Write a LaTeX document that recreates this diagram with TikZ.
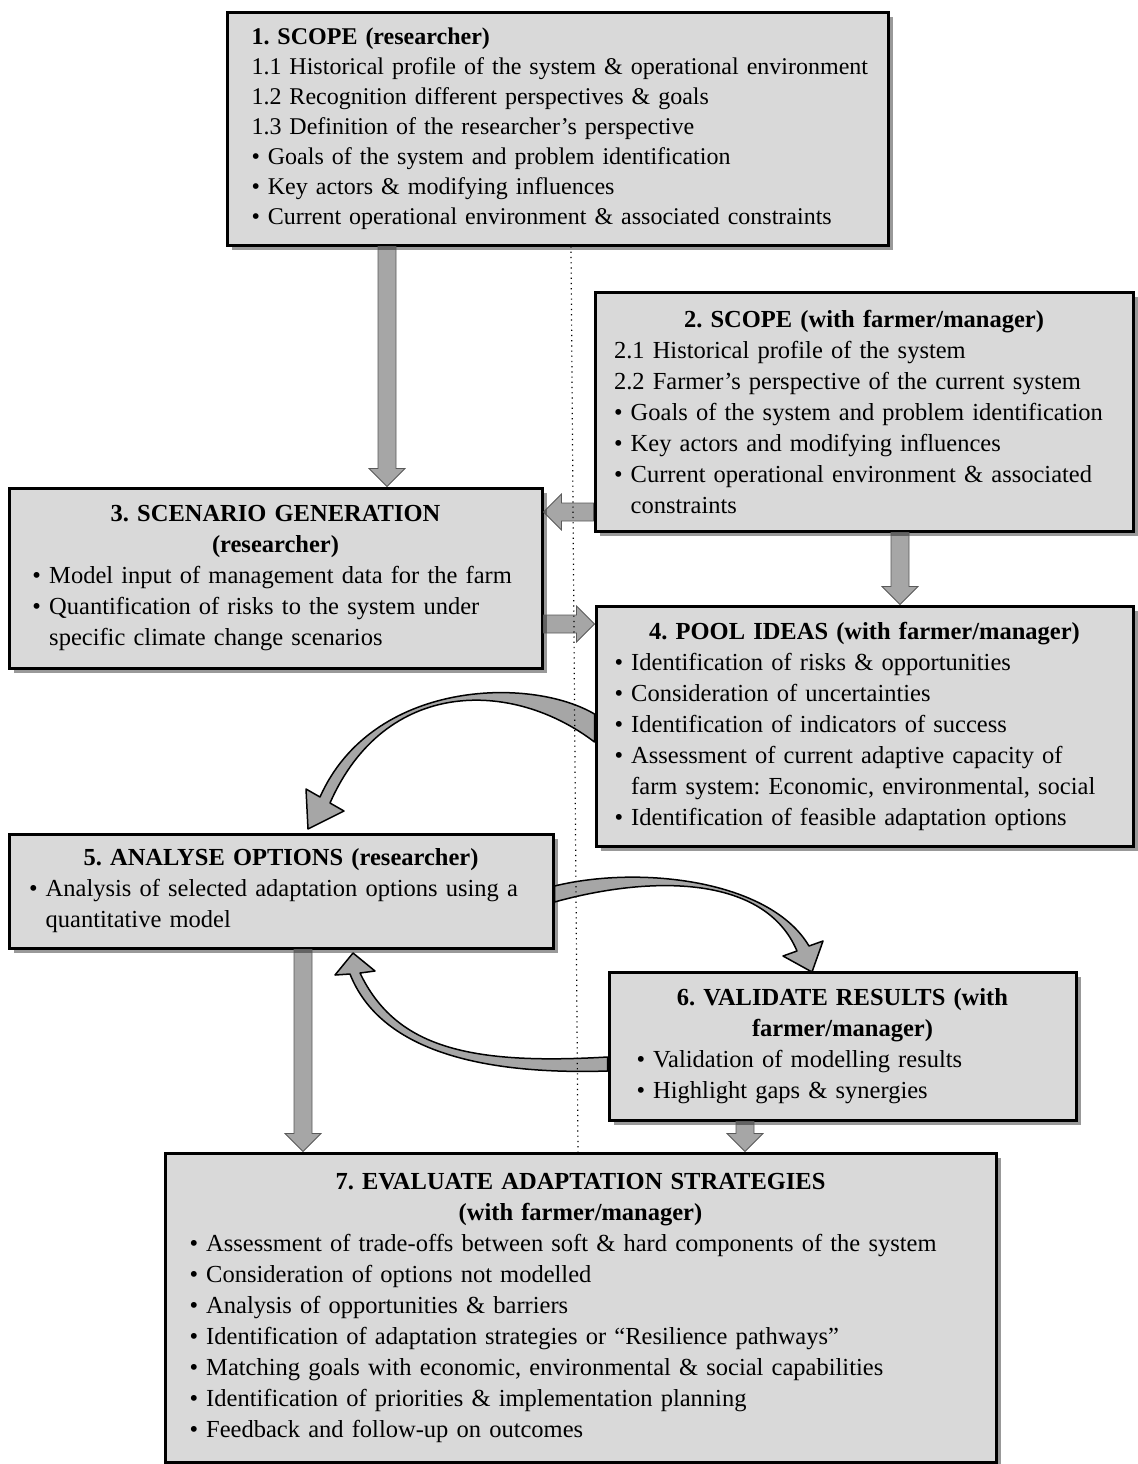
\documentclass[tikz,border=0pt]{standalone}
\usepackage{fontspec}
\setmainfont{Liberation Serif}
\usetikzlibrary{calc,shadows}

\definecolor{boxgray}{HTML}{D9D9D9}
\definecolor{shadowgray}{HTML}{999999}
\definecolor{arrowgray}{HTML}{A6A6A6}
\definecolor{edgegray}{HTML}{595959}

\frenchspacing
\hyphenpenalty=10000
\hbadness=10000
\hfuzz=20pt
\newcommand{\ind}{\phantom{\textbullet\ }}
\newcommand{\boxhead}[1]{{\centering\bfseries #1\par}}
\newcommand{\blockarrow}[2]{%
  \draw[flatarrow] let \p1=(#1), \p2=(#2), \p3=($(\p2)!9pt!(\p1)$) in
    ($(\p1)!4.5pt!90:(\p2)$) -- ($(\p3)!4.5pt!90:(\p2)$) -- ($(\p3)!9pt!90:(\p2)$) -- (\p2)
    -- ($(\p3)!9pt!-90:(\p2)$) -- ($(\p3)!4.5pt!-90:(\p2)$) -- ($(\p1)!4.5pt!-90:(\p2)$) -- cycle;}

\begin{document}
\begin{tikzpicture}[x=0.5pt,y=-0.5pt,
    stage/.style={draw=black, line width=1.5pt, fill=boxgray, align=left,
      font=\fontsize{12.25pt}{15.5pt}\selectfont, inner xsep=6pt,
      drop shadow={shadow xshift=2.5pt, shadow yshift=-2.5pt, fill=shadowgray, opacity=1}},
    flatarrow/.style={draw=edgegray, line width=0.4pt, fill=black, fill opacity=0.35},
    bentarrow/.style={draw=black, line width=0.75pt, fill=arrowgray, line join=round}]
        \useasboundingbox (0,0) rectangle (1138,1464);

        % The seven stages.
        \node[stage, font=\fontsize{12pt}{15pt}\selectfont, minimum width=330.5pt, minimum height=116.5pt, text width=306pt] (scope) at (557.5,128.5) {%
          \textbf{1. SCOPE (researcher)}\\
          \mbox{1.1 Historical profile of the system \& operational environment}\\
          1.2 Recognition different perspectives \& goals\\
          1.3 Definition of the researcher’s perspective\\
          \textbullet\ Goals of the system and problem identification\\
          \textbullet\ Key actors \& modifying influences\\
          \mbox{\textbullet\ Current operational environment \& associated constraints}};
        \node[stage, minimum width=269pt, minimum height=119.5pt, text width=250pt] (farmscope) at (864,411.5) {%
          \boxhead{2. SCOPE (with farmer/manager)}
          2.1 Historical profile of the system\\
          2.2 Farmer’s perspective of the current system\\
          \textbullet\ Goals of the system and problem identification\\
          \textbullet\ Key actors and modifying influences\\
          \textbullet\ Current operational environment \& associated\\
          \ind constraints};
        \node[stage, minimum width=266.5pt, minimum height=90pt, text width=243pt] (scenario) at (275.5,578) {%
          \boxhead{3. SCENARIO GENERATION\\(researcher)}
          \textbullet\ Model input of management data for the farm\\
          \textbullet\ Quantification of risks to the system under\\
          \ind specific climate change scenarios};
        \node[stage, minimum width=268.5pt, minimum height=120pt, text width=250pt] (pool) at (864.5,726) {%
          \boxhead{4. POOL IDEAS (with farmer/manager)}
          \textbullet\ Identification of risks \& opportunities\\
          \textbullet\ Consideration of uncertainties\\
          \textbullet\ Identification of indicators of success\\
          \textbullet\ Assessment of current adaptive capacity of\\
          \ind farm system: Economic, environmental, social\\
          \textbullet\ Identification of feasible adaptation options};
        \node[stage, minimum width=272pt, minimum height=57pt, text width=252pt] (analyse) at (281,891) {%
          \boxhead{5. ANALYSE OPTIONS (researcher)}
          \textbullet\ Analysis of selected adaptation options using a\\
          \ind quantitative model};
        \node[stage, minimum width=233.5pt, minimum height=74pt, text width=206pt] (validate) at (842.5,1046) {%
          \boxhead{6. VALIDATE RESULTS (with\\farmer/manager)}
          \textbullet\ Validation of modelling results\\
          \textbullet\ Highlight gaps \& synergies};
        \node[stage, minimum width=415.5pt, minimum height=154.5pt, text width=391pt] (evaluate) at (580.5,1307.5) {%
          \boxhead{7. EVALUATE ADAPTATION STRATEGIES\\(with farmer/manager)}
          \textbullet\ Assessment of trade-offs between soft \& hard components of the system\\
          \textbullet\ Consideration of options not modelled\\
          \textbullet\ Analysis of opportunities \& barriers\\
          \textbullet\ Identification of adaptation strategies or “Resilience pathways”\\
          \textbullet\ Matching goals with economic, environmental \& social capabilities\\
          \textbullet\ Identification of priorities \& implementation planning\\
          \textbullet\ Feedback and follow-up on outcomes};

        % Where the straight arrows and the dotted line run.
        \coordinate (c13) at (387,0);
        \coordinate (c23) at (0,512);
        \coordinate (c34) at (0,624);
        \coordinate (c24) at (900,0);
        \coordinate (c57) at (303,0);
        \coordinate (c67) at (745,0);
        \coordinate (dtop) at (571,0);
        \coordinate (dbot) at (578,0);

        % Straight block arrows.
        \blockarrow{scope.south -| c13}{scenario.north -| c13}
        \blockarrow{farmscope.west |- c23}{scenario.east |- c23}
        \blockarrow{scenario.east |- c34}{pool.west |- c34}
        \blockarrow{farmscope.south -| c24}{pool.north -| c24}
        \blockarrow{analyse.south -| c57}{evaluate.north -| c57}
        \blockarrow{validate.south -| c67}{evaluate.north -| c67}

        % Curved arrows.
        \draw[bentarrow] ([yshift=6pt]pool.west) .. controls (530,676) and (372,680) .. (320,797)
          -- (306,789) -- (308,829) -- (344,811) -- (330,803)
          .. controls (385,678) and (512,679) .. ([yshift=-8pt]pool.west) -- cycle;
        \draw[bentarrow] ([yshift=2.5pt]analyse.east) .. controls (640,865) and (770,880) .. (809,946)
          -- (823,941) -- (812,972) -- (783,956) -- (797,951)
          .. controls (765,875) and (652,875) .. ([yshift=-5.5pt]analyse.east) -- cycle;
        \draw[bentarrow] ([yshift=-5.5pt]validate.west) .. controls (470,1065) and (396,1048) .. (360,973)
          -- (375,971) -- (353,953) -- (335,975) -- (350,974)
          .. controls (380,1050) and (480,1075) .. ([yshift=-12.5pt]validate.west) -- cycle;

        % Dotted divider.
        \draw[dotted, line width=0.6pt] (scope.south -| dtop) -- (evaluate.north -| dbot);
\end{tikzpicture}
\end{document}
